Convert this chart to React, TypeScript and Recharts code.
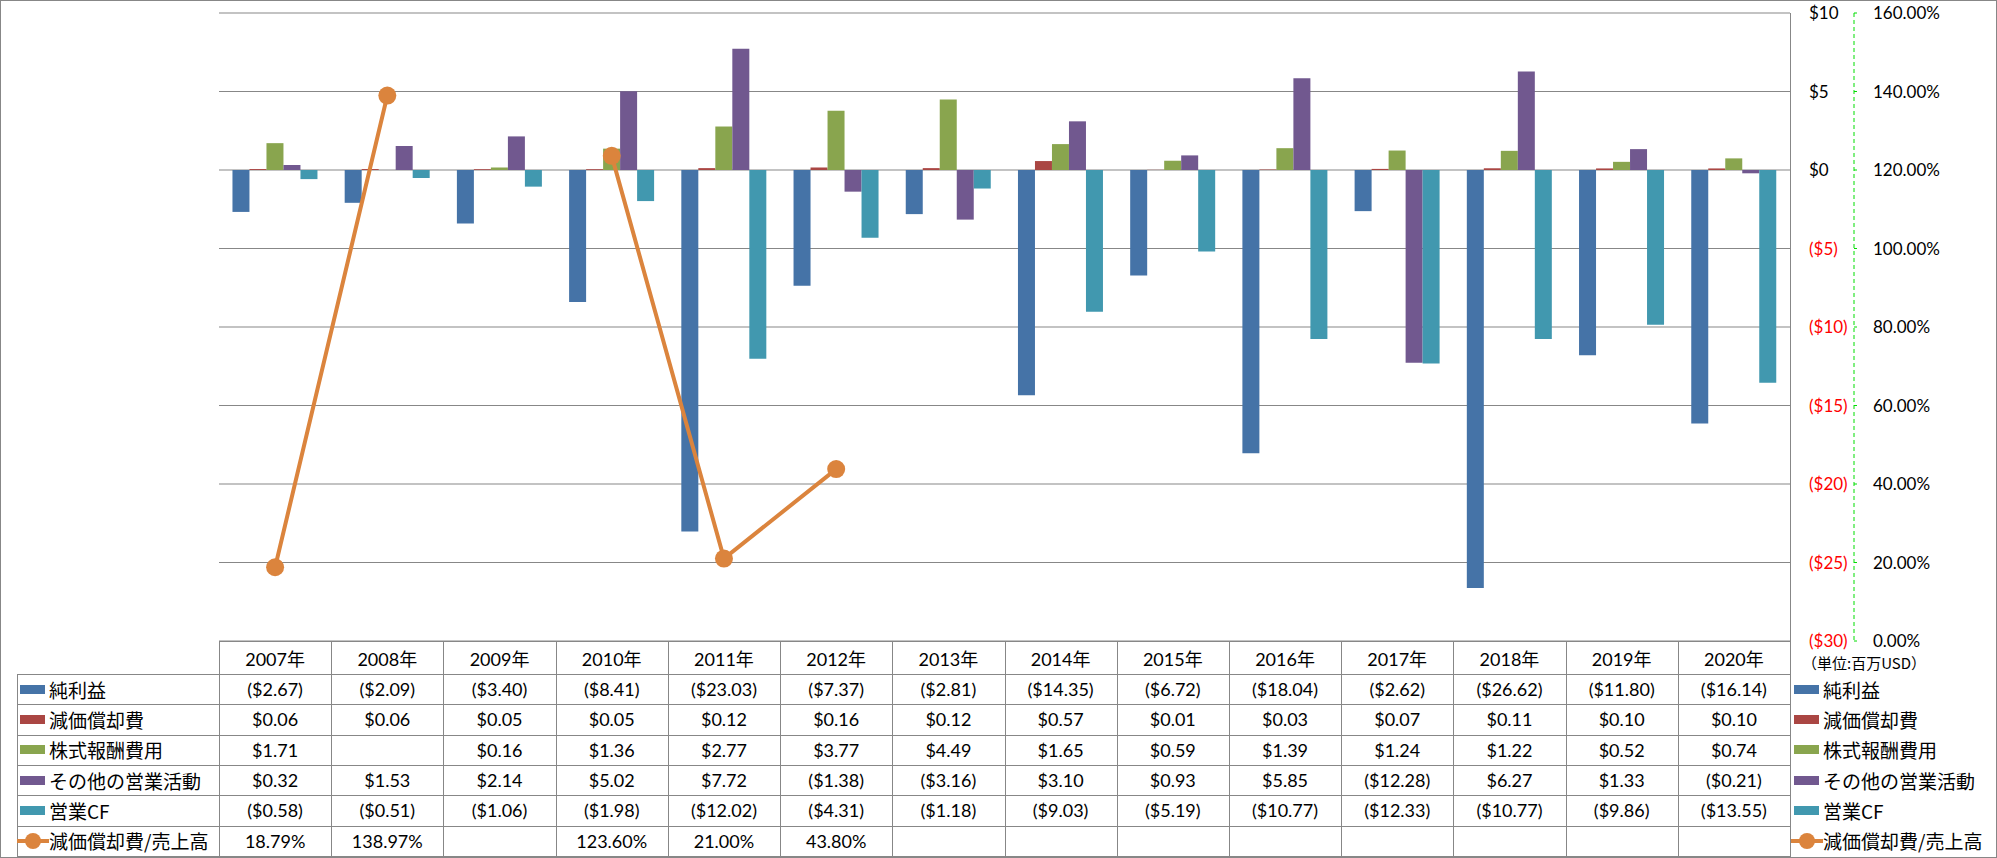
import React from "react";
import {
  ComposedChart,
  Bar,
  Line,
  XAxis,
  YAxis,
  CartesianGrid,
} from "recharts";

const years = [
  "2007年", "2008年", "2009年", "2010年", "2011年", "2012年", "2013年",
  "2014年", "2015年", "2016年", "2017年", "2018年", "2019年", "2020年",
];
const netIncome = [-2.67, -2.09, -3.4, -8.41, -23.03, -7.37, -2.81, -14.35, -6.72, -18.04, -2.62, -26.62, -11.8, -16.14];
const depreciation = [0.06, 0.06, 0.05, 0.05, 0.12, 0.16, 0.12, 0.57, 0.01, 0.03, 0.07, 0.11, 0.1, 0.1];
const stockComp = [1.71, null, 0.16, 1.36, 2.77, 3.77, 4.49, 1.65, 0.59, 1.39, 1.24, 1.22, 0.52, 0.74];
const otherOps = [0.32, 1.53, 2.14, 5.02, 7.72, -1.38, -3.16, 3.1, 0.93, 5.85, -12.28, 6.27, 1.33, -0.21];
const operatingCF = [-0.58, -0.51, -1.06, -1.98, -12.02, -4.31, -1.18, -9.03, -5.19, -10.77, -12.33, -10.77, -9.86, -13.55];
const deprRatio = [18.79, 138.97, null, 123.6, 21.0, 43.8, null, null, null, null, null, null, null, null];

const usdTicks = [-30, -25, -20, -15, -10, -5, 0, 5, 10];
const pctTicks = [0, 20, 40, 60, 80, 100, 120, 140, 160];

const C = {
  blue: "#4573A7",
  red: "#AA4643",
  green: "#89A54E",
  purple: "#71588F",
  teal: "#4198AF",
  orange: "#DB843D",
  grid: "#878787",
};

const data = years.map((y, i) => ({
  year: y,
  netIncome: netIncome[i],
  depreciation: depreciation[i],
  stockComp: stockComp[i],
  otherOps: otherOps[i],
  operatingCF: operatingCF[i],
  deprRatio: deprRatio[i],
}));

const fmtUsd = (v) =>
  v == null ? "" : v < 0 ? `($${Math.abs(v).toFixed(2)})` : `$${v.toFixed(2)}`;
const fmtPct = (v) => (v == null ? "" : `${v.toFixed(2)}%`);

const rows = [
  { name: "純利益", color: C.blue, values: netIncome, fmt: fmtUsd },
  { name: "減価償却費", color: C.red, values: depreciation, fmt: fmtUsd },
  { name: "株式報酬費用", color: C.green, values: stockComp, fmt: fmtUsd },
  { name: "その他の営業活動", color: C.purple, values: otherOps, fmt: fmtUsd },
  { name: "営業CF", color: C.teal, values: operatingCF, fmt: fmtUsd },
  { name: "減価償却費/売上高", color: C.orange, values: deprRatio, fmt: fmtPct, line: true },
];

const FONT = "Lato, 'Noto Sans CJK JP', sans-serif";
const JP = "'Noto Sans CJK JP', sans-serif";

// layout
const W = 1997;
const H = 858;
const PLOT_L = 219;
const PLOT_R = 1790;
const PLOT_T = 13;
const PLOT_B = 641;
const COL_W = (PLOT_R - PLOT_L) / years.length;
const HEAD_H = 33;
const ROW_H = 30.33;

function UsdTick(props) {
  const { x, y, payload } = props;
  const v = payload.value;
  return (
    <text
      x={x}
      y={y}
      dy="0.36em"
      textAnchor="start"
      fill={v < 0 ? "#FF0000" : "#000"}
      fontSize={17}
      fontFamily={FONT}
    >
      {v < 0 ? `($${-v})` : `$${v}`}
    </text>
  );
}

function Swatch({ row }) {
  if (row.line) {
    return (
      <svg width={32} height={20} style={{ display: "block" }}>
        <line x1={0} y1={10} x2={32} y2={10} stroke={row.color} strokeWidth={4} />
        <circle cx={16} cy={10} r={8} fill={row.color} />
      </svg>
    );
  }
  return <div style={{ width: 25, height: 9, background: row.color, marginLeft: 3, marginRight: 4 }} />;
}

function DataTable() {
  const lineStyle = { position: "absolute", background: C.grid };
  const els = [];
  els.push(<div key="hh" style={{ ...lineStyle, left: PLOT_L, top: PLOT_B, width: PLOT_R - PLOT_L, height: 1 }} />);
  for (let r = 0; r <= rows.length; r++) {
    const y = PLOT_B + HEAD_H + r * ROW_H;
    els.push(<div key={"h" + r} style={{ ...lineStyle, left: 17, top: y, width: PLOT_R - 17, height: 1 }} />);
  }
  const bottom = PLOT_B + HEAD_H + rows.length * ROW_H;
  els.push(<div key="v0" style={{ ...lineStyle, left: 17, top: PLOT_B + HEAD_H, width: 1, height: bottom - PLOT_B - HEAD_H }} />);
  for (let c = 0; c <= years.length; c++) {
    const x = PLOT_L + c * COL_W;
    els.push(<div key={"v" + c} style={{ ...lineStyle, left: x, top: PLOT_B, width: 1, height: bottom - PLOT_B + 1 }} />);
  }
  years.forEach((y, c) => {
    els.push(
      <div
        key={"y" + c}
        style={{
          position: "absolute", left: PLOT_L + c * COL_W, top: PLOT_B, width: COL_W, height: HEAD_H,
          display: "flex", alignItems: "center", justifyContent: "center", fontSize: 18, fontFamily: FONT,
        }}
      >
        {y}
      </div>
    );
  });
  rows.forEach((row, r) => {
    const top = PLOT_B + HEAD_H + r * ROW_H;
    els.push(
      <div
        key={"l" + r}
        style={{ position: "absolute", left: 17, top, height: ROW_H, display: "flex", alignItems: "center", fontSize: 19, fontFamily: JP, whiteSpace: "nowrap" }}
      >
        <Swatch row={row} />
        <span>{row.name}</span>
      </div>
    );
    els.push(
      <div
        key={"r" + r}
        style={{ position: "absolute", left: 1791, top, height: ROW_H, display: "flex", alignItems: "center", fontSize: 19, fontFamily: JP, whiteSpace: "nowrap" }}
      >
        <Swatch row={row} />
        <span>{row.name}</span>
      </div>
    );
    row.values.forEach((v, c) => {
      els.push(
        <div
          key={"c" + r + "-" + c}
          style={{
            position: "absolute", left: PLOT_L + c * COL_W, top, width: COL_W, height: ROW_H,
            display: "flex", alignItems: "center", justifyContent: "center", fontSize: 18, fontFamily: FONT,
          }}
        >
          {row.fmt(v)}
        </div>
      );
    });
  });
  return <>{els}</>;
}

export default function App() {
  return (
    <div style={{ position: "relative", width: W, height: H, background: "#fff", overflow: "hidden" }}>
      <style>{`body{margin:0}`}</style>
      <ComposedChart
        width={W}
        height={H}
        data={data}
        barCategoryGap="12%"
        barGap={0}
        margin={{ top: PLOT_T, bottom: H - PLOT_B, left: PLOT_L, right: 43 }}
      >
        <CartesianGrid yAxisId="a_usd" vertical={false} stroke={C.grid} strokeWidth={1} />
        <XAxis dataKey="year" hide />
        <YAxis
          yAxisId="a_usd"
          orientation="right"
          width={64}
          domain={[-30, 10]}
          ticks={usdTicks}
          axisLine={false}
          tickLine={false}
          tickMargin={13}
          tick={<UsdTick />}
          interval={0}
        />
        <YAxis
          yAxisId="b_pct"
          orientation="right"
          width={100}
          domain={[0, 160]}
          ticks={pctTicks}
          axisLine={{ stroke: "#00DD00", strokeDasharray: "4 3" }}
          tickLine={{ stroke: "#00DD00" }}
          tickSize={3}
          tickMargin={16}
          interval={0}
          tick={{ fill: "#000", fontSize: 17, fontFamily: FONT }}
          tickFormatter={(v) => `${v.toFixed(2)}%`}
        />
        <Bar yAxisId="a_usd" dataKey="netIncome" fill={C.blue} isAnimationActive={false} />
        <Bar yAxisId="a_usd" dataKey="depreciation" fill={C.red} isAnimationActive={false} />
        <Bar yAxisId="a_usd" dataKey="stockComp" fill={C.green} isAnimationActive={false} />
        <Bar yAxisId="a_usd" dataKey="otherOps" fill={C.purple} isAnimationActive={false} />
        <Bar yAxisId="a_usd" dataKey="operatingCF" fill={C.teal} isAnimationActive={false} />
        <Line
          yAxisId="b_pct"
          dataKey="deprRatio"
          stroke={C.orange}
          strokeWidth={4}
          dot={{ r: 9, fill: C.orange, stroke: "none" }}
          activeDot={false}
          connectNulls={false}
          isAnimationActive={false}
        />
      </ComposedChart>
      <div style={{ position: "absolute", left: PLOT_R, top: PLOT_T, width: 1, height: PLOT_B - PLOT_T, background: C.grid }} />
      <DataTable />
      <div
        style={{ position: "absolute", left: 1802, top: 652, fontSize: 15, fontFamily: JP, whiteSpace: "nowrap", lineHeight: "22px" }}
      >
        （単位:百万USD）
      </div>
      <div style={{ position: "absolute", left: 0, top: 0, width: W - 2, height: H - 2, border: `1px solid ${C.grid}` }} />
    </div>
  );
}
